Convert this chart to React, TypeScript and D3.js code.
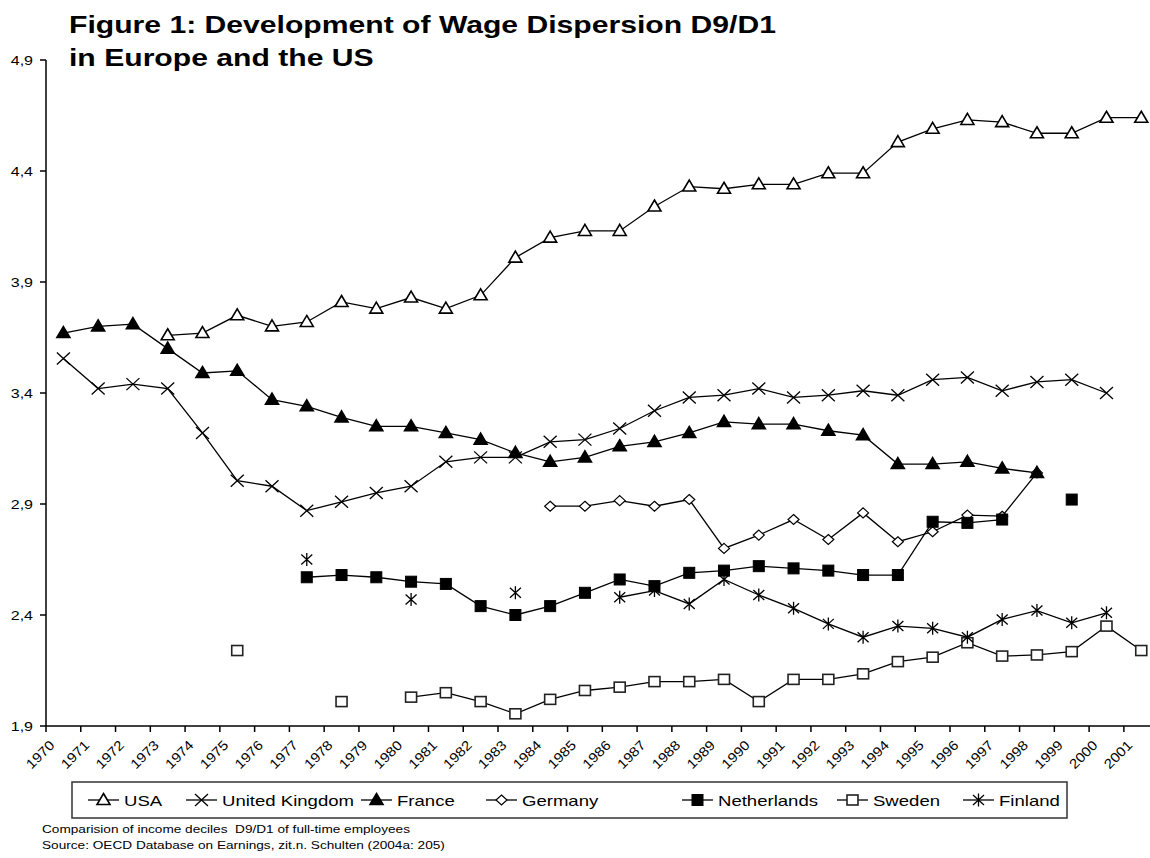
import React, { useEffect, useRef } from 'react';
import * as d3 from 'd3';

type Val = number | null;

const years = d3.range(1970, 2002).map(String);
const yTicks = [1.9, 2.4, 2.9, 3.4, 3.9, 4.4, 4.9];

const usa: Val[] = [null, null, null, 3.66, 3.67, 3.75, 3.70, 3.72, 3.81, 3.78, 3.83, 3.78, 3.84, 4.01, 4.10, 4.13, 4.13, 4.24, 4.33, 4.32, 4.34, 4.34, 4.39, 4.39, 4.53, 4.59, 4.63, 4.62, 4.57, 4.57, 4.64, 4.64];
const uk: Val[] = [3.555, 3.42, 3.44, 3.42, 3.22, 3.005, 2.98, 2.87, 2.91, 2.95, 2.98, 3.09, 3.11, 3.11, 3.18, 3.19, 3.24, 3.32, 3.38, 3.39, 3.42, 3.38, 3.39, 3.41, 3.39, 3.46, 3.47, 3.41, 3.45, 3.46, 3.40, null];
const france: Val[] = [3.67, 3.70, 3.71, 3.60, 3.49, 3.50, 3.37, 3.34, 3.29, 3.25, 3.25, 3.22, 3.19, 3.13, 3.09, 3.11, 3.16, 3.18, 3.22, 3.27, 3.26, 3.26, 3.23, 3.21, 3.08, 3.08, 3.09, 3.06, 3.04, null, null, null];
const germany: Val[] = [null, null, null, null, null, null, null, null, null, null, null, null, null, null, 2.89, 2.89, 2.915, 2.89, 2.92, 2.70, 2.76, 2.83, 2.74, 2.86, 2.73, 2.775, 2.85, 2.845, 3.04, null, null, null];
const netherlands: Val[] = [null, null, null, null, null, null, null, 2.57, 2.58, 2.57, 2.55, 2.54, 2.44, 2.40, 2.44, 2.50, 2.56, 2.53, 2.59, 2.60, 2.62, 2.61, 2.60, 2.58, 2.58, 2.82, 2.815, 2.83, null, 2.92, null, null];
const sweden: Val[] = [null, null, null, null, null, 2.24, null, null, 2.01, null, 2.03, 2.05, 2.01, 1.955, 2.02, 2.06, 2.075, 2.10, 2.10, 2.11, 2.01, 2.11, 2.11, 2.135, 2.19, 2.21, 2.275, 2.215, 2.22, 2.235, 2.35, 2.24];
const finland: Val[] = [null, null, null, null, null, null, null, 2.65, null, null, 2.47, null, null, 2.50, null, null, 2.48, 2.51, 2.45, 2.56, 2.49, 2.43, 2.36, 2.30, 2.35, 2.34, 2.30, 2.38, 2.42, 2.365, 2.41, null];

type Marker = 'triOpen' | 'cross' | 'triFill' | 'diamond' | 'sqFill' | 'sqOpen' | 'star';

const series: { name: string; values: Val[]; marker: Marker }[] = [
  { name: 'USA', values: usa, marker: 'triOpen' },
  { name: 'United Kingdom', values: uk, marker: 'cross' },
  { name: 'France', values: france, marker: 'triFill' },
  { name: 'Germany', values: germany, marker: 'diamond' },
  { name: 'Netherlands', values: netherlands, marker: 'sqFill' },
  { name: 'Sweden', values: sweden, marker: 'sqOpen' },
  { name: 'Finland', values: finland, marker: 'star' },
];
// markers stacking order (France above Germany, Netherlands above Germany)
const markerOrder = ['USA', 'United Kingdom', 'Germany', 'France', 'Netherlands', 'Sweden', 'Finland'];
const legendX = [88, 186, 361, 486, 682, 837, 963];

const FONT = 'Arial, "Liberation Sans", sans-serif';
// the original figure is stretched horizontally
const SX = 1.28;

type G = d3.Selection<SVGGElement, unknown, null, undefined>;

function drawMarker(g: G, type: Marker, x: number, y: number) {
  const m = g.append('g').attr('transform', `translate(${x},${y})`);
  switch (type) {
    case 'triOpen':
    case 'triFill':
      m.append('path')
        .attr('d', 'M0,-6.5L6.5,4.5L-6.5,4.5Z')
        .attr('fill', type === 'triFill' ? '#000' : '#fff')
        .attr('stroke', '#000')
        .attr('stroke-width', 1.6);
      break;
    case 'cross':
      m.append('path')
        .attr('d', 'M-6.5,-6L6.5,6M-6.5,6L6.5,-6')
        .attr('stroke', '#000')
        .attr('stroke-width', 1.3);
      break;
    case 'diamond':
      m.append('path')
        .attr('d', 'M0,-5L5.5,0L0,5L-5.5,0Z')
        .attr('fill', '#fff')
        .attr('stroke', '#000')
        .attr('stroke-width', 1.2);
      break;
    case 'sqFill':
      m.append('rect').attr('x', -5.5).attr('y', -5.5).attr('width', 11).attr('height', 11)
        .attr('fill', '#000').attr('stroke', '#000').attr('stroke-width', 1);
      break;
    case 'sqOpen':
      m.append('rect').attr('x', -5.5).attr('y', -5).attr('width', 11).attr('height', 10)
        .attr('fill', '#fff').attr('stroke', '#222').attr('stroke-width', 1.6);
      break;
    case 'star':
      m.append('path')
        .attr('d', 'M-5.5,-5L5.5,5M-5.5,5L5.5,-5M0,-6.5L0,6.5')
        .attr('stroke', '#000')
        .attr('stroke-width', 1.3);
      break;
  }
}

function stretchedText(g: G, x: number, y: number, txt: string, size: number, anchor = 'start', bold = false, sx = SX) {
  return g.append('text')
    .attr('transform', `translate(${x},${y}) scale(${sx},1)`)
    .attr('text-anchor', anchor)
    .attr('font-family', FONT)
    .attr('font-size', size)
    .attr('font-weight', bold ? 'bold' : 'normal')
    .attr('fill', '#000')
    .text(txt);
}

const App: React.FC = () => {
  const svgRef = useRef<SVGSVGElement>(null);

  useEffect(() => {
    if (!svgRef.current) return;
    const svg = d3.select(svgRef.current);
    svg.selectAll('*').remove();
    const root = svg.append('g') as unknown as G;

    const left = 46;
    const step = 34.77;
    const x = d3.scaleBand().domain(years).range([left, left + step * years.length]).padding(0);
    const y = d3.scaleLinear().domain([1.9, 4.9]).range([726, 60]);
    const cx = (i: number) => (x(years[i]) as number) + x.bandwidth() / 2;

    // Title
    stretchedText(root, 69, 33, 'Figure 1: Development of Wage Dispersion D9/D1', 23, 'start', true, 1.31);
    stretchedText(root, 69, 66, 'in Europe and the US', 23, 'start', true, 1.31);

    // Y axis
    const axisG = root.append('g') as unknown as G;
    axisG.append('line').attr('x1', left).attr('x2', left).attr('y1', y(4.9)).attr('y2', y(1.9))
      .attr('stroke', '#000').attr('stroke-width', 1.5);
    yTicks.forEach(t => {
      axisG.append('line').attr('x1', left - 6).attr('x2', left).attr('y1', y(t)).attr('y2', y(t))
        .attr('stroke', '#000').attr('stroke-width', 1.5);
      stretchedText(axisG, 33, y(t) + 4.5, d3.format('.1f')(t).replace('.', ','), 12.5, 'end');
    });

    // X axis
    axisG.append('line').attr('x1', left).attr('x2', 1150).attr('y1', y(1.9)).attr('y2', y(1.9))
      .attr('stroke', '#000').attr('stroke-width', 1.5);
    years.forEach((yr, i) => {
      const bx = x(yr) as number;
      axisG.append('line').attr('x1', bx).attr('x2', bx).attr('y1', y(1.9)).attr('y2', y(1.9) + 6)
        .attr('stroke', '#000').attr('stroke-width', 1.5);
      const lx = cx(i) - 8;
      const ly = 746;
      axisG.append('text')
        .attr('transform', `translate(${lx},${ly}) rotate(-45) scale(1.12,1)`)
        .attr('text-anchor', 'end')
        .attr('font-family', FONT).attr('font-size', 13.5)
        .text(yr);
    });

    // Lines
    const line = d3.line<Val>()
      .defined(d => d != null)
      .x((_, i) => cx(i))
      .y(d => y(d as number));
    const plot = root.append('g') as unknown as G;
    series.forEach(s => {
      plot.append('path')
        .attr('d', line(s.values) || '')
        .attr('fill', 'none')
        .attr('stroke', '#000')
        .attr('stroke-width', 1.3);
    });

    // Markers
    markerOrder.forEach(name => {
      const s = series.find(d => d.name === name)!;
      s.values.forEach((v, i) => {
        if (v == null) return;
        drawMarker(plot, s.marker, cx(i), y(v));
      });
    });

    // Legend
    const lg = root.append('g') as unknown as G;
    lg.append('rect').attr('x', 72).attr('y', 782).attr('width', 995).attr('height', 36)
      .attr('fill', '#fff').attr('stroke', '#333').attr('stroke-width', 1.5);
    series.forEach((s, i) => {
      const x0 = legendX[i];
      const ly = 800;
      lg.append('line').attr('x1', x0).attr('x2', x0 + 31).attr('y1', ly).attr('y2', ly)
        .attr('stroke', '#000').attr('stroke-width', 1.3);
      drawMarker(lg, s.marker, x0 + 15.5, ly);
      stretchedText(lg, x0 + 36, ly + 5.5, s.name, 14.5);
    });

    // Notes
    stretchedText(root, 42, 833, 'Comparision of income deciles\u00a0\u00a0D9/D1 of full-time employees', 11, 'start', false, 1.24);
    stretchedText(root, 42, 849, 'Source: OECD Database on Earnings, zit.n. Schulten (2004a: 205)', 11, 'start', false, 1.24);
  }, []);

  return (
    <div style={{ position: 'absolute', left: 0, top: 0, width: 1150, height: 858, background: '#fff' }}>
      <svg ref={svgRef} width={1150} height={858} style={{ display: 'block' }} />
    </div>
  );
};

export default App;
